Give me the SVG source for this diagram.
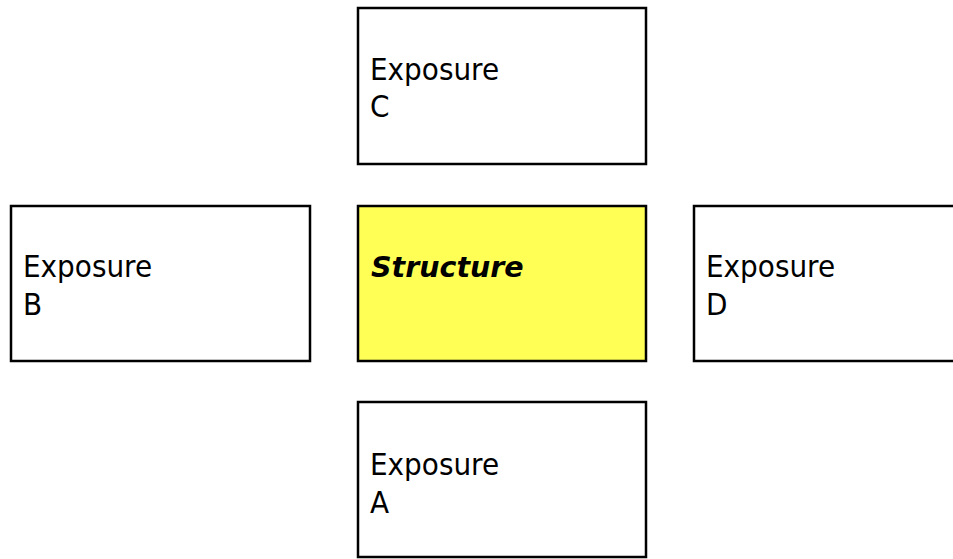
<svg xmlns="http://www.w3.org/2000/svg" width="953" height="559" viewBox="0 0 953 559">
<style>
.box{fill:#ffffff;stroke:#000000;stroke-width:2.5}
.hub{fill:#ffff55;stroke:#000000;stroke-width:2.5}
.lbl{font-family:"DejaVu Sans Condensed","DejaVu Sans","Liberation Sans",sans-serif;font-stretch:condensed;font-size:31px;fill:#000000}
.main{font-family:"DejaVu Sans","Liberation Sans",sans-serif;font-size:28.5px;font-weight:bold;font-style:italic;fill:#000000}
</style>
<rect width="953" height="559" fill="#ffffff"/>
<g id="connectors"></g>
<g id="exposure-c">
<rect class="box" x="358" y="8" width="288" height="156"/>
<text class="lbl" x="370" y="80">Exposure</text>
<text class="lbl" x="370" y="117">C</text>
</g>
<g id="exposure-b">
<rect class="box" x="11" y="206" width="299" height="155"/>
<text class="lbl" x="23" y="277">Exposure</text>
<text class="lbl" x="23" y="315">B</text>
</g>
<g id="structure">
<rect class="hub" x="358" y="206" width="288" height="155"/>
<text class="main" x="371" y="277">Structure</text>
</g>
<g id="exposure-d">
<rect class="box" x="694" y="206" width="270" height="155"/>
<text class="lbl" x="706" y="277">Exposure</text>
<text class="lbl" x="706" y="315">D</text>
</g>
<g id="exposure-a">
<rect class="box" x="358" y="402" width="288" height="155"/>
<text class="lbl" x="370" y="475">Exposure</text>
<text class="lbl" x="370" y="513">A</text>
</g>
</svg>
